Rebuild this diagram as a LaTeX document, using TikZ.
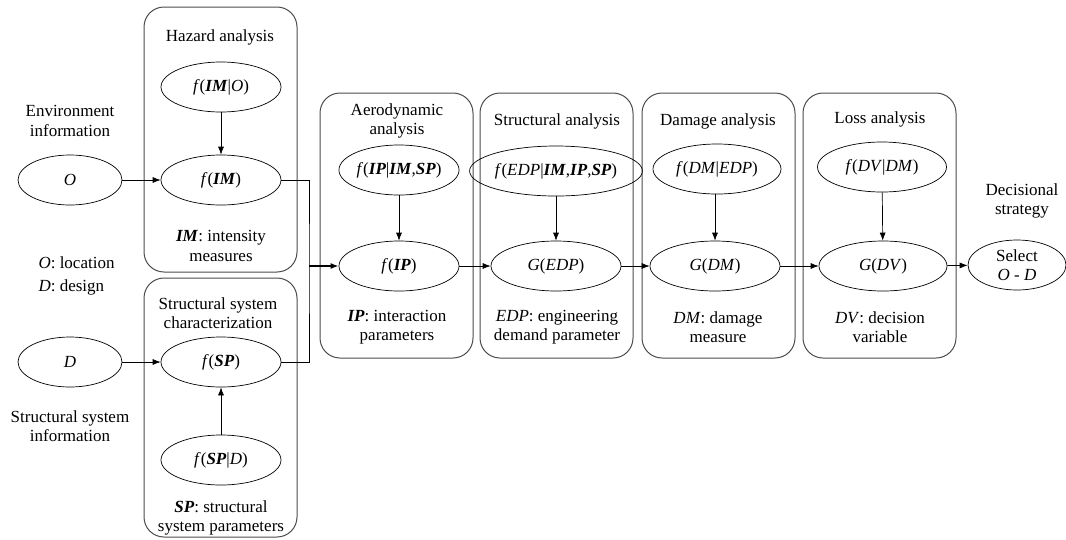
\documentclass[tikz,border=0pt]{standalone}
\usepackage{fontspec}
\setmainfont{Liberation Serif}
\usetikzlibrary{shapes.geometric,arrows.meta}
\newcommand{\bi}[1]{\textbf{\textit{#1}}}
\newcommand{\ii}[1]{\textit{#1}}

\begin{document}
\begin{tikzpicture}[x=1pt,y=-1pt,>={Latex[length=8pt,width=6pt]},
	every node/.style={font=\rmfamily\fontsize{17}{19.5}\selectfont, align=center},
	var/.style={draw, ellipse, line width=0.7pt, minimum width=120pt, minimum height=50pt, inner sep=0pt},
	panel/.style={draw=black!70, line width=1pt, rounded corners=20pt},
	link/.style={->, line width=0.7pt}]
	\useasboundingbox (0,0) rectangle (1066,539);

	% panels
	\draw[panel] (144,7) rectangle (297,272);
	\draw[panel] (144,278) rectangle (297,537);
	\draw[panel] (320,93) rectangle (473,358);
	\draw[panel] (480,93) rectangle (633,358);
	\draw[panel] (642,93) rectangle (795,358);
	\draw[panel] (803,93) rectangle (956,358);

	% titles
	\node (thaz) at (220,37) {Hazard analysis};
	\node (tssc) at (218,313) {Structural system\\characterization};
	\node (taer) at (397,121) {Aerodynamic\\analysis};
	\node (tstr) at (557,121) {Structural analysis};
	\node (tdam) at (718,121) {Damage analysis};
	\node (tlos) at (880,119) {Loss analysis};
	\node (tdec) at (1022,201) {Decisional\\strategy};

	% left side
	\node (tenv) at (70,121) {Environment\\information};
	\node[anchor=west] (tloc) at (35,263) {\ii{O}: location};
	\node[anchor=west] (tdes) at (35,287) {\ii{D}: design};
	\node (tinf) at (70,426) {Structural system\\information};

	% variables
	\node[var, minimum width=104pt] (o) at (70,180) {\ii{O}};
	\node[var, minimum width=104pt] (d) at (70,362) {\ii{D}};
	\node[var] (fimo) at (221,87) {\ii{f}(\bi{IM}|\ii{O})};
	\node[var] (fim) at (221,180) {\ii{f}(\bi{IM})};
	\node[var] (fsp) at (221,362) {\ii{f}(\bi{SP})};
	\node[var] (fspd) at (221,460) {\ii{f}(\bi{SP}|\ii{D})};
	\node[var] (fipc) at (399,170) {\ii{f}(\bi{IP}|\bi{IM},\bi{SP})};
	\node[var] (fip) at (399,266) {\ii{f}(\bi{IP})};
	\node[var, minimum width=142pt] (fedpc) at (556,171) {\ii{f}(\ii{EDP}|\bi{IM},\bi{IP},\bi{SP})};
	\node[var, minimum width=130pt] (gedp) at (556,266) {\ii{G}(\ii{EDP})};
	\node[var, minimum width=128pt] (fdmc) at (717,169) {\ii{f}(\ii{DM}|\ii{EDP})};
	\node[var, minimum width=130pt] (gdm) at (715,266) {\ii{G}(\ii{DM})};
	\node[var, minimum width=129pt] (fdvc) at (882,167) {\ii{f}(\ii{DV}|\ii{DM})};
	\node[var, minimum width=128pt] (gdv) at (883,266) {\ii{G}(\ii{DV})};
	\node[var, minimum width=98pt] (sel) at (1017,265) {Select\\\ii{O - D}};

	% legends
	\node (lim) at (221,246) {\bi{IM}: intensity\\measures};
	\node (lsp) at (221,518) {\bi{SP}: structural\\system parameters};
	\node (lip) at (397,327) {\bi{IP}: interaction\\parameters};
	\node (ledp) at (557,327) {\ii{EDP}: engineering\\demand parameter};
	\node (ldm) at (718,327) {\ii{DM}: damage\\measure};
	\node (ldv) at (880,327) {\ii{DV}: decision\\variable};

	% connectors
	\draw[link] (o) -- (fim);
	\draw[link] (d) -- (fsp);
	\draw[link] (fimo) -- (fim);
	\draw[link] (fspd) -- (fsp);
	\draw[link] (fipc) -- (fip);
	\draw[link] (fedpc) -- (gedp);
	\draw[link] (fdmc.south -| gdm) -- (gdm);
	\draw[link] (fdvc) -- (gdv);
	\draw[link] (fip) -- (gedp);
	\draw[link] (gedp) -- (gdm);
	\draw[link] (gdm) -- (gdv);
	\draw[link] (gdv) -- (sel);

	\coordinate (jn) at (309,266);
	\draw[line width=0.7pt] (fim.east) -| (jn) |- (fsp.east);
	\draw[->, line width=1.5pt] (jn) -- (fip);
\end{tikzpicture}
\end{document}
